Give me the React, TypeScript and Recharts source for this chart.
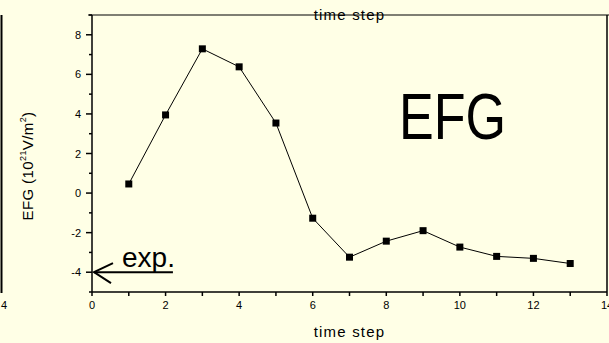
import React from 'react';
import { LineChart, Line, XAxis, YAxis, ReferenceLine } from 'recharts';

// values
const steps = [1, 2, 3, 4, 5, 6, 7, 8, 9, 10, 11, 12, 13];
const efg = [0.46, 3.95, 7.29, 6.38, 3.54, -1.27, -3.24, -2.43, -1.9, -2.73, -3.2, -3.3, -3.56];
const xTicks = [0, 1, 2, 3, 4, 5, 6, 7, 8, 9, 10, 11, 12, 13, 14];
const yTicks = [-5, -4, -3, -2, -1, 0, 1, 2, 3, 4, 5, 6, 7, 8, 9];
const xMax = 14;
const yMin = -5;
const yMax = 9;
const expValue = -4;
const expArrowEnd = 2.2;

const data = steps.map((step, i) => ({ step, efg: efg[i] }));

const FONT = '"Liberation Sans", Arial, sans-serif';
const BG = '#FFFFE6';

const SquareDot = (props: any) => {
  const { cx, cy, index } = props;
  if (cx == null || cy == null) return null;
  return <rect key={index} x={cx - 3.5} y={cy - 3.5} width={7} height={7} fill="#000" />;
};

const XTick = ({ x, y, payload }: any) => (
  <g>
    <line x1={x} y1={y} x2={x} y2={y + 4} stroke="#000" strokeWidth={1.5} />
    {payload.value % 2 === 0 && (
      <text x={x} y={y + 17} textAnchor="middle" fontSize={11} fontFamily={FONT} fill="#000">
        {payload.value}
      </text>
    )}
  </g>
);

const YTick = ({ x, y, payload }: any) => {
  const major = payload.value % 2 === 0;
  return (
    <g>
      <line x1={x - (major ? 6 : 3)} y1={y} x2={x} y2={y} stroke="#000" strokeWidth={1.5} />
      {major && (
        <text x={x - 11} y={y + 4} textAnchor="end" fontSize={11} fontFamily={FONT} fill="#000">
          {payload.value}
        </text>
      )}
    </g>
  );
};

const bottomTitle = ({ viewBox }: any) => (
  <text
    x={viewBox.x + viewBox.width / 2}
    y={viewBox.y + 45}
    textAnchor="middle"
    fontSize={15}
    letterSpacing={1.2}
    fontFamily={FONT}
    fill="#000"
  >
    time step
  </text>
);

const yTitle = () => {
  const cx = 33;
  const cy = 166;
  return (
    <text
      x={cx}
      y={cy}
      transform={`rotate(-90 ${cx} ${cy})`}
      textAnchor="middle"
      fontSize={15}
      letterSpacing={0.4}
      fontFamily={FONT}
      fill="#000"
    >
      EFG (10
      <tspan fontSize={9} dy={-7}>21</tspan>
      <tspan dy={7}>V/m</tspan>
      <tspan fontSize={9} dy={-7}>2</tspan>
      <tspan dy={7}>)</tspan>
    </text>
  );
};

// top frame line with the second "time step" title struck through by it
const TopFrame = (props: any) => {
  const { x1, y1, x2, y2 } = props;
  return (
    <g>
      <text
        x={(x1 + x2) / 2}
        y={y1 + 5}
        textAnchor="middle"
        fontSize={15}
        letterSpacing={1.2}
        fontFamily={FONT}
        fill="#000"
      >
        time step
      </text>
      <line x1={x1 - 4} y1={y1} x2={x2 + 4} y2={y2} stroke="#000" strokeWidth={1.2} />
    </g>
  );
};

const RightFrame = (props: any) => {
  const { x1, y1, x2, y2 } = props;
  return <line x1={x1} y1={y1} x2={x2} y2={y2} stroke="#000" strokeWidth={1.5} />;
};

const ExpArrow = (props: any) => {
  const { x1, y1, x2, y2 } = props;
  return (
    <g>
      <line x1={x1 + 2} y1={y1} x2={x2} y2={y2} stroke="#000" strokeWidth={2} />
      <polyline
        points={`${x1 + 21},${y1 - 9} ${x1 + 2},${y1} ${x1 + 19},${y1 + 11}`}
        fill="none"
        stroke="#000"
        strokeWidth={2}
      />
      <text x={x1 + 30} y={y1 - 5} fontSize={28} fontFamily={FONT} fill="#000">
        exp.
      </text>
    </g>
  );
};

export default function App() {
  return (
    <div style={{ position: 'absolute', left: 0, top: 0, width: 609, height: 343, background: BG, overflow: 'hidden' }}>
      <LineChart width={609} height={343} data={data} margin={{ top: 15, right: 2, bottom: 0, left: 0 }}>
        <XAxis
          xAxisId="b"
          dataKey="step"
          type="number"
          domain={[0, xMax]}
          ticks={xTicks}
          interval={0}
          height={51}
          tickSize={0}
          tickMargin={0}
          tickLine={false}
          tick={<XTick />}
          axisLine={{ stroke: '#000', strokeWidth: 1.5 }}
          label={{ content: bottomTitle }}
          allowDataOverflow
        />
        <YAxis
          yAxisId="l"
          type="number"
          domain={[yMin, yMax]}
          ticks={yTicks}
          interval={0}
          width={92}
          tickSize={0}
          tickMargin={0}
          tickLine={false}
          tick={<YTick />}
          axisLine={{ stroke: '#000', strokeWidth: 1.5 }}
          label={{ content: yTitle }}
          allowDataOverflow
        />
        <ReferenceLine xAxisId="b" yAxisId="l" y={yMax} shape={TopFrame} ifOverflow="visible" />
        <ReferenceLine xAxisId="b" yAxisId="l" x={xMax} shape={RightFrame} ifOverflow="visible" />
        <ReferenceLine
          xAxisId="b"
          yAxisId="l"
          segment={[{ x: 0, y: expValue }, { x: expArrowEnd, y: expValue }]}
          shape={ExpArrow}
          ifOverflow="visible"
        />
        <Line
          xAxisId="b"
          yAxisId="l"
          type="linear"
          dataKey="efg"
          stroke="#000"
          strokeWidth={1}
          dot={<SquareDot />}
          isAnimationActive={false}
        />
      </LineChart>
      <svg width={609} height={343} style={{ position: 'absolute', left: 0, top: 0, pointerEvents: 'none' }}>
        <line x1={1.5} y1={15} x2={1.5} y2={293} stroke="#000" strokeWidth={2} />
        <text x={1} y={309} fontSize={11} fontFamily={FONT} fill="#000">4</text>
        <text x={399} y={139} fontSize={64} fontFamily={FONT} fill="#000" textLength={107} lengthAdjust="spacingAndGlyphs">
          EFG
        </text>
      </svg>
    </div>
  );
}
